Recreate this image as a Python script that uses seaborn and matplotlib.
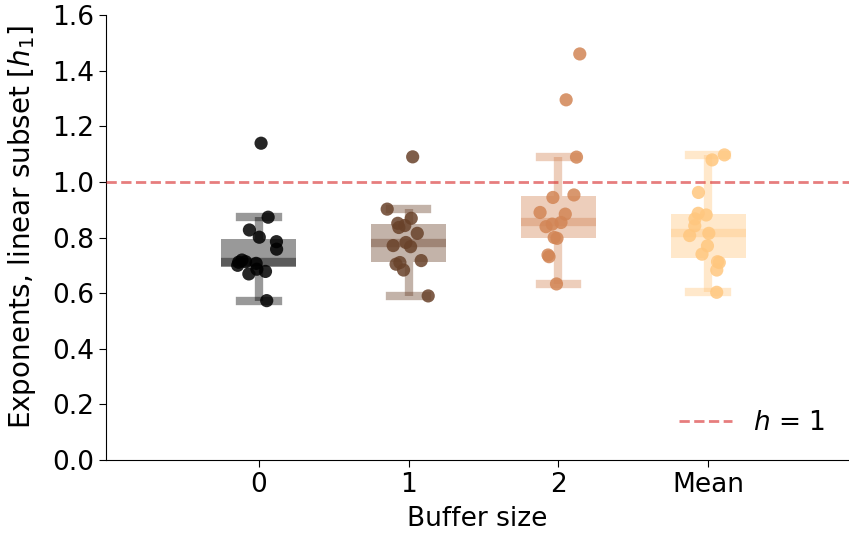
import numpy as np
import pandas as pd
import matplotlib
matplotlib.use("Agg")
import matplotlib.pyplot as plt
import seaborn as sns

# Exponents fitted on the linear subset, one value per subject
categories = ["0", "1", "2", "Mean"]
buffer_0 = [1.139, 0.873, 0.827, 0.801, 0.785, 0.758, 0.719, 0.713, 0.711,
            0.707, 0.700, 0.686, 0.678, 0.669, 0.573]
buffer_1 = [1.090, 0.902, 0.869, 0.851, 0.843, 0.836, 0.815, 0.782, 0.771,
            0.767, 0.717, 0.710, 0.704, 0.683, 0.590]
buffer_2 = [1.460, 1.295, 1.089, 0.953, 0.944, 0.890, 0.884, 0.854, 0.848,
            0.839, 0.800, 0.797, 0.737, 0.731, 0.633]
buffer_mean = [1.097, 1.079, 0.962, 0.887, 0.881, 0.867, 0.842, 0.815, 0.807,
               0.770, 0.740, 0.713, 0.710, 0.683, 0.603]
reference_h = 1.0

groups = [buffer_0, buffer_1, buffer_2, buffer_mean]
df = pd.DataFrame({
    "Buffer size": np.repeat(categories, [len(g) for g in groups]),
    "value": np.concatenate(groups),
})

colors = [tuple(c) for c in plt.cm.copper(np.linspace(0, 1, len(categories)))]
palette = dict(zip(categories, colors))

plt.rcParams["font.family"] = ["DejaVu Sans"]
plt.rcParams["mathtext.fontset"] = "dejavusans"
FS = 19

fig = plt.figure(figsize=(8.49, 5.39), dpi=100)
ax = fig.add_axes([106 / 849, 79 / 539, 743 / 849, 445 / 539])

for cat in categories:
    sub = df[df["Buffer size"] == cat]
    c = palette[cat]
    sns.boxplot(
        data=sub, x="Buffer size", y="value", order=categories,
        width=0.5, color=c, linecolor=c, saturation=1, showfliers=False,
        linewidth=6,
        boxprops=dict(alpha=0.4, linewidth=0),
        whiskerprops=dict(alpha=0.4),
        capprops=dict(alpha=0.4, solid_capstyle="projecting"),
        medianprops=dict(alpha=0.4),
        ax=ax,
    )

np.random.seed(3)
sns.stripplot(
    data=df, x="Buffer size", y="value", order=categories,
    hue="Buffer size", hue_order=categories, palette=palette,
    size=9.5, alpha=0.85, jitter=0.15, linewidth=0, legend=False,
    zorder=3, ax=ax,
)

ax.axhline(reference_h, ls="--", color="tab:red", alpha=0.6, lw=2,
           label="$h$ = 1", zorder=4)

ax.set_ylim(0, 1.6)
ax.set_yticks(np.arange(0, 1.61, 0.2))
ax.set_xlim(-1.02, 3.94)
ax.set_xlabel("Buffer size", fontsize=FS, labelpad=6)
ax.set_ylabel("Exponents, linear subset [$h_1$]", fontsize=20)
ax.yaxis.set_label_coords(-0.092, 0.524)
ax.tick_params(labelsize=FS, length=5)
ax.legend(frameon=False, loc="lower right", fontsize=FS)
sns.despine(ax=ax)

fig.savefig("out.png", dpi=100)
